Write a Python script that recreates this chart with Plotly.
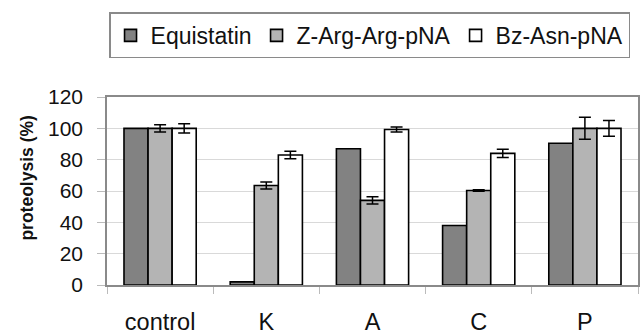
import plotly.graph_objects as go

categories = ["control", "K", "A", "C", "P"]
equistatin = [100, 2, 87, 38, 90.5]
z_arg = [100, 63.5, 54, 60.3, 100]
z_arg_err = [2.3, 2.3, 2.3, 0.5, 7]
bz_asn = [100, 83, 99.3, 84, 100]
bz_asn_err = [3, 2.4, 1.6, 2.6, 5]
y_ticks = [0, 20, 40, 60, 80, 100, 120]

FONT = "Liberation Sans, Arial, sans-serif"
line = dict(color="black", width=1.6)
err_style = dict(color="black", thickness=1.5, width=6)

fig = go.Figure()
fig.add_trace(go.Bar(name="Equistatin", x=categories, y=equistatin,
                     marker=dict(color="#828282", line=line)))
fig.add_trace(go.Bar(name="Z-Arg-Arg-pNA", x=categories, y=z_arg,
                     error_y=dict(type="data", array=z_arg_err, visible=True, **err_style),
                     marker=dict(color="#b4b4b4", line=line)))
fig.add_trace(go.Bar(name="Bz-Asn-pNA", x=categories, y=bz_asn,
                     error_y=dict(type="data", array=bz_asn_err, visible=True, **err_style),
                     marker=dict(color="#ffffff", line=line)))

fig.update_layout(
    width=641, height=336,
    margin=dict(l=107, r=1, t=97, b=49),
    paper_bgcolor="white", plot_bgcolor="white",
    barmode="group", bargap=0.32, bargroupgap=0,
    font=dict(family=FONT, size=22, color="#111"),
    showlegend=True,
    legend=dict(orientation="h", x=0.985, xanchor="right", y=1.45, yanchor="top",
                bordercolor="#8a8a8a", borderwidth=1.5, bgcolor="white",
                font=dict(size=23), itemwidth=30, tracegroupgap=0),
    xaxis=dict(showline=True, linecolor="#8a8a8a", linewidth=1.5, mirror=True,
               ticks="outside", tickson="boundaries", ticklen=7, tickcolor="#bbbbbb",
               tickfont=dict(size=23.5), ticklabelstandoff=15, showgrid=False),
    yaxis=dict(range=[0, 120], tickvals=y_ticks, showline=True, linecolor="#8a8a8a",
               linewidth=1.5, mirror=True, ticks="outside", ticklen=8, tickcolor="#bbbbbb",
               gridcolor="#d9d9d9", gridwidth=1, zeroline=False,
               tickfont=dict(size=21), ticklabelstandoff=10),
    annotations=[dict(text="<b>proteolysis (%)</b>", textangle=-90, x=-0.15, y=0.568,
                      xref="paper", yref="paper", xanchor="center", yanchor="middle",
                      showarrow=False,
                      font=dict(size=17.5, family=FONT, color="#111"))],
)

fig.write_html("out.html")
